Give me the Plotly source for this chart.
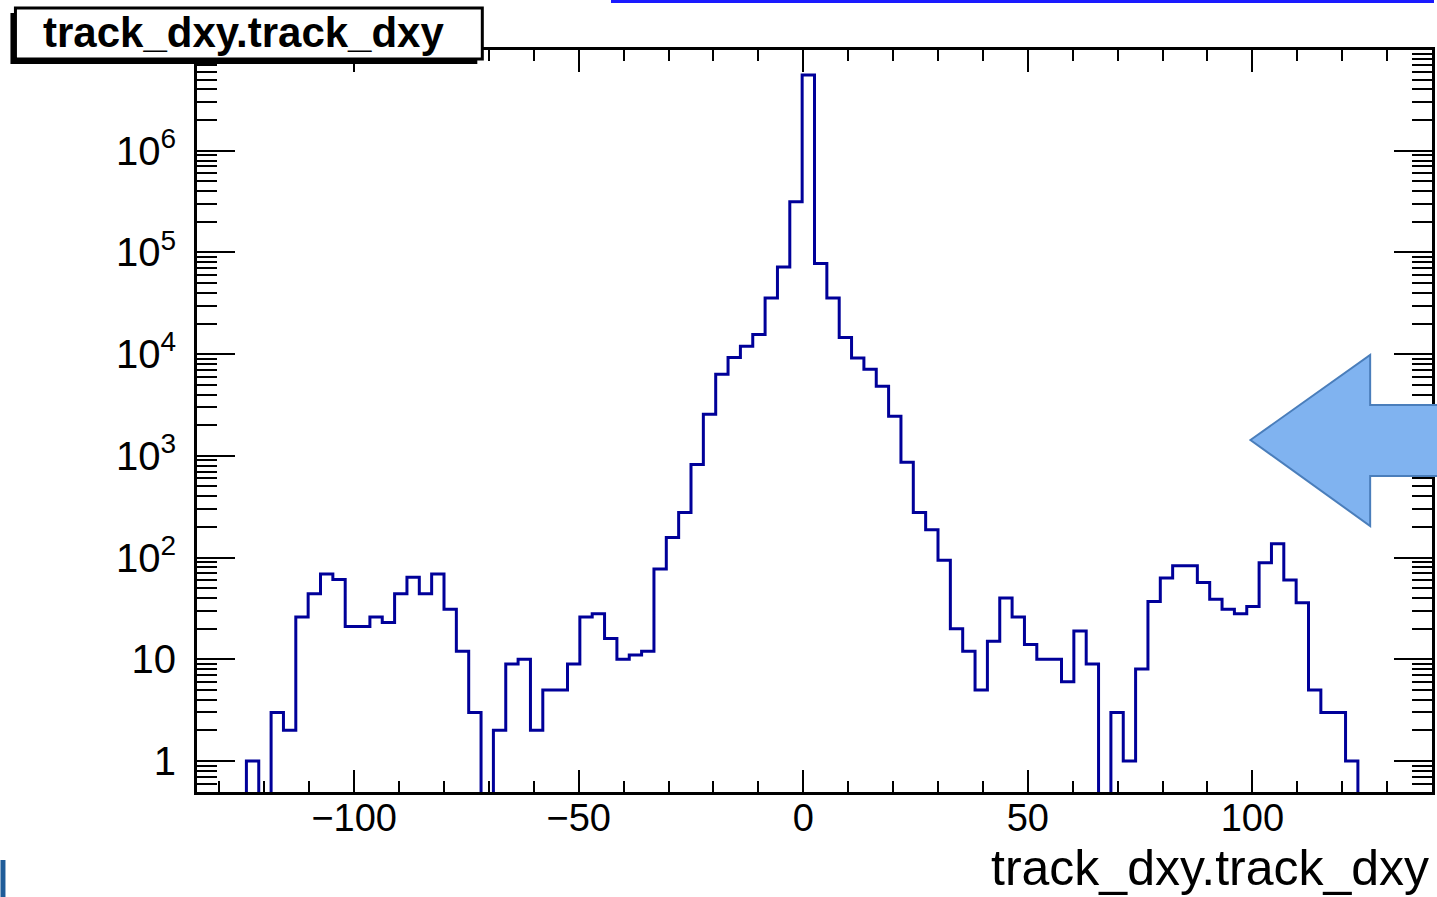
import plotly.graph_objects as go

# Histogram of track_dxy: 100 equal bins on [-135, 140]
x_low = -135.0
x_high = 140.0
counts = [
    0, 0, 0, 0, 1, 0, 3, 2, 26, 44,
    69, 61, 21, 21, 26, 23, 44, 64, 44, 69,
    31, 12, 3, 0, 2, 9, 10, 2, 5, 5,
    9, 26, 28, 16, 10, 11, 12, 77, 157, 277,
    820, 2560, 6340, 9270, 11970, 15600, 35700, 72000, 314000, 5560000,
    77800, 35700, 14600, 9180, 7100, 4830, 2450, 865, 277, 188,
    94, 20, 12, 5, 15, 40, 26, 14, 10, 10,
    6, 19, 9, 0, 3, 1, 8, 37, 63, 83,
    83, 57, 39, 31, 28, 33, 89, 137, 60, 36,
    5, 3, 3, 1, 0, 0, 0, 0, 0, 0,
]
x_major = [-100, -50, 0, 50, 100]
y_major = [1, 10, 100, 1e3, 1e4, 1e5, 1e6, 1e7]
y_major_text = ["1", "10", "10<sup>2</sup>", "10<sup>3</sup>", "10<sup>4</sup>",
                "10<sup>5</sup>", "10<sup>6</sup>", "10<sup>7</sup>"]
y_minor = [m * 10 ** k for k in range(0, 7) for m in range(2, 10)] + [0.6, 0.7, 0.8, 0.9]

n_bins = len(counts)
width = (x_high - x_low) / n_bins
edges = [x_low + i * width for i in range(n_bins + 1)]

# empty bins are drawn below the frame so the outline drops to the axis
floor = 0.05
step_y = [c if c > 0 else floor for c in counts]
step_x = edges
step_y = step_y + [step_y[-1]]

W, H = 1437, 897
L, R, T, B = 197, 2, 50, 105
pw, ph = W - L - R, H - T - B


def px(xp):
    return (xp - L) / pw


def py(yp):
    return (H - B - yp) / ph


fig = go.Figure()
fig.add_trace(go.Scatter(
    x=step_x, y=step_y, mode="lines", line=dict(shape="hv", color="#000099", width=3),
    hoverinfo="skip", showlegend=False,
))

font = "Liberation Sans, Arial, Helvetica, sans-serif"

fig.update_layout(
    width=W, height=H,
    margin=dict(l=L, r=R, t=T, b=B, pad=0),
    paper_bgcolor="white", plot_bgcolor="white",
    showlegend=False,
    xaxis=dict(
        range=[x_low, x_high], showgrid=False, zeroline=False,
        showline=True, linecolor="black", linewidth=3, mirror="ticks",
        ticks="inside", ticklen=22, tickwidth=2, tickcolor="black",
        tickmode="array", tickvals=x_major,
        ticktext=[("\u2212" + str(-v)) if v < 0 else str(v) for v in x_major],
        tickfont=dict(family=font, size=38, color="black"),
        ticklabelstandoff=-10,
        minor=dict(ticks="inside", ticklen=11, tickwidth=2, tickcolor="black",
                   dtick=10, tick0=0, showgrid=False),
    ),
    yaxis=dict(
        type="log", range=[-0.305, 6.99], showgrid=False, zeroline=False,
        showline=True, linecolor="black", linewidth=3, mirror="ticks",
        ticks="inside", ticklen=38, tickwidth=2, tickcolor="black",
        tickmode="array", tickvals=y_major, ticktext=y_major_text,
        tickfont=dict(family=font, size=40, color="black"),
        ticklabelstandoff=10,
        minor=dict(ticks="inside", ticklen=20, tickwidth=2, tickcolor="black",
                   tickmode="array", tickvals=y_minor, showgrid=False),
    ),
)

# x-axis title, right-aligned under the axis
fig.add_annotation(
    text="track_dxy.track_dxy", xref="paper", yref="paper",
    x=px(1434), y=py(868), xanchor="right", yanchor="middle",
    showarrow=False, font=dict(family=font, size=50, color="black"),
)

shapes = []
# pointing arrow on the right
arrow = [(1253, 440), (1373, 355), (1373, 405), (1445, 405),
         (1445, 476), (1373, 476), (1373, 526)]
path = "M " + " L ".join(f"{px(a):.5f},{py(b):.5f}" for a, b in arrow) + " Z"
shapes.append(dict(type="path", xref="paper", yref="paper", path=path,
                   fillcolor="#80b3f0", line=dict(color="#4a7ebb", width=2), layer="above"))

# title box with drop shadow
shapes.append(dict(type="rect", xref="paper", yref="paper",
                   x0=px(10), x1=px(478), y0=py(64), y1=py(13),
                   fillcolor="black", line=dict(width=0), layer="above"))
shapes.append(dict(type="rect", xref="paper", yref="paper",
                   x0=px(15), x1=px(483), y0=py(59), y1=py(8),
                   fillcolor="white", line=dict(color="black", width=3), layer="above"))

# page decorations at the edges
shapes.append(dict(type="rect", xref="paper", yref="paper",
                   x0=px(612), x1=px(1437), y0=py(3), y1=py(0),
                   fillcolor="#1a1aff", line=dict(width=0), layer="above"))
shapes.append(dict(type="rect", xref="paper", yref="paper",
                   x0=px(0), x1=px(5), y0=py(897), y1=py(860),
                   fillcolor="#1f5c99", line=dict(width=0), layer="above"))
fig.update_layout(shapes=shapes)

fig.add_annotation(
    text="<b>track_dxy.track_dxy</b>", xref="paper", yref="paper",
    x=px(244), y=py(33), xanchor="center", yanchor="middle",
    showarrow=False, font=dict(family=font, size=42, color="black"),
)

fig.write_html("out.html")
